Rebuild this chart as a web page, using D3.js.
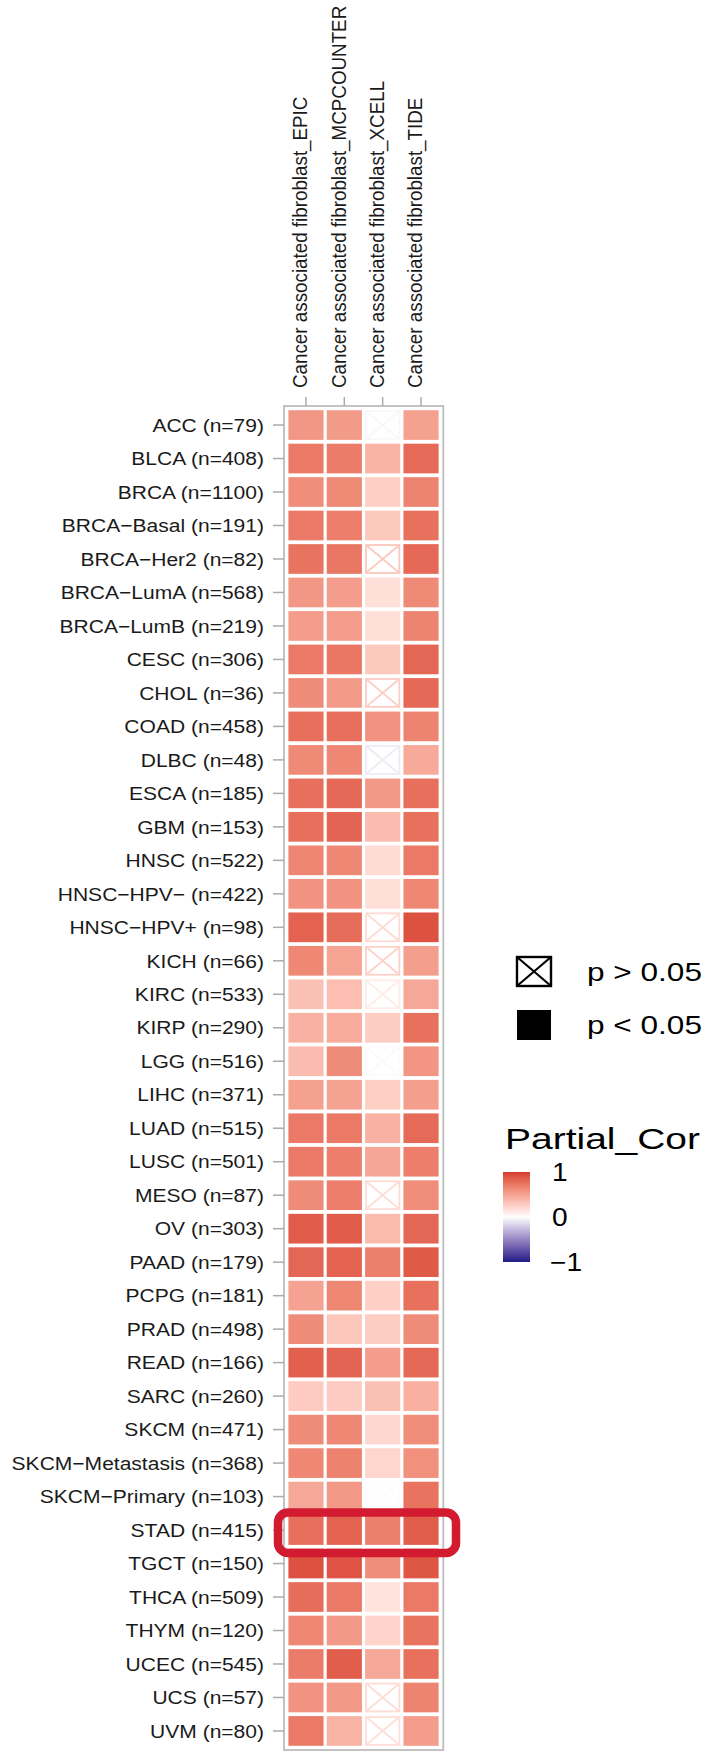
<!DOCTYPE html>
<html>
<head>
<meta charset="utf-8">
<script src="https://cdn.jsdelivr.net/npm/d3@7"></script>
<style>
  body { margin: 0; background: #fff; }
  svg { display: block; font-family: "Liberation Sans", Arial, Helvetica, sans-serif; }
</style>
</head>
<body>
<div id="chart"></div>
<script>

// Data

var cancers = ["ACC", "BLCA", "BRCA", "BRCA−Basal", "BRCA−Her2", "BRCA−LumA", "BRCA−LumB", "CESC", "CHOL", "COAD",
  "DLBC", "ESCA", "GBM", "HNSC", "HNSC−HPV−", "HNSC−HPV+", "KICH", "KIRC", "KIRP", "LGG",
  "LIHC", "LUAD", "LUSC", "MESO", "OV", "PAAD", "PCPG", "PRAD", "READ", "SARC",
  "SKCM", "SKCM−Metastasis", "SKCM−Primary", "STAD", "TGCT", "THCA", "THYM", "UCEC", "UCS", "UVM"];

var sampleN = [79, 408, 1100, 191, 82, 568, 219, 306, 36, 458,
  48, 185, 153, 522, 422, 98, 66, 533, 290, 516,
  371, 515, 501, 87, 303, 179, 181, 498, 166, 260,
  471, 368, 103, 415, 150, 509, 120, 545, 57, 80];

var methods = ["Cancer associated fibroblast_EPIC", "Cancer associated fibroblast_MCPCOUNTER",
  "Cancer associated fibroblast_XCELL", "Cancer associated fibroblast_TIDE"];

var corEPIC = [0.56, 0.72, 0.61, 0.71, 0.75, 0.56, 0.53, 0.71, 0.62, 0.77,
  0.63, 0.77, 0.77, 0.65, 0.58, 0.83, 0.64, 0.34, 0.42, 0.36,
  0.51, 0.71, 0.71, 0.62, 0.86, 0.81, 0.50, 0.62, 0.84, 0.28,
  0.62, 0.64, 0.47, 0.77, 0.91, 0.78, 0.64, 0.70, 0.58, 0.72];

var corMCP = [0.54, 0.70, 0.63, 0.69, 0.73, 0.53, 0.53, 0.73, 0.54, 0.77,
  0.64, 0.80, 0.82, 0.64, 0.58, 0.78, 0.49, 0.35, 0.45, 0.62,
  0.50, 0.72, 0.69, 0.69, 0.86, 0.83, 0.64, 0.31, 0.82, 0.28,
  0.64, 0.67, 0.55, 0.83, 0.90, 0.72, 0.55, 0.85, 0.55, 0.41];

var corXCELL = [-0.03, 0.41, 0.26, 0.29, 0.30, 0.17, 0.17, 0.29, 0.27, 0.58,
  -0.08, 0.55, 0.36, 0.19, 0.18, 0.20, 0.25, 0.10, 0.27, -0.02,
  0.26, 0.42, 0.48, 0.19, 0.37, 0.68, 0.26, 0.27, 0.53, 0.34,
  0.21, 0.22, -0.01, 0.68, 0.61, 0.15, 0.23, 0.47, 0.19, 0.18];

var corTIDE = [0.51, 0.79, 0.66, 0.76, 0.80, 0.63, 0.66, 0.81, 0.80, 0.66,
  0.46, 0.77, 0.76, 0.72, 0.64, 0.91, 0.52, 0.47, 0.76, 0.57,
  0.52, 0.79, 0.69, 0.61, 0.81, 0.87, 0.76, 0.62, 0.80, 0.43,
  0.61, 0.60, 0.75, 0.85, 0.89, 0.72, 0.75, 0.76, 0.66, 0.53];

// cells with p > 0.05 (only XCELL column)
var notSigXCELL = ["ACC", "BRCA−Her2", "CHOL", "DLBC", "HNSC−HPV+", "KICH", "KIRC", "LGG",
  "MESO", "SKCM−Primary", "UCS", "UVM"];

var legendTicks = [1, 0, -1];

// Dimensions

var width = 708;
var height = 1757;
var panel = { left: 284, right: 443.3, top: 406, bottom: 1750 };
var stretch = 1.125;   // text in the picture is a bit wider than tall

var svg = d3.select("#chart")
  .append("svg")
  .attr("width", width)
  .attr("height", height);

// Scales

var x = d3.scaleBand()
  .domain(methods)
  .range([panel.left + 2.8, panel.right - 3.1]);

var y = d3.scaleBand()
  .domain(cancers)
  .range([panel.top + 2.3, panel.bottom - 2.3]);

var color = d3.scaleLinear()
  .domain([-1, 0, 1])
  .range(["#1c1c86", "#ffffff", "#d63b30"])
  .interpolate(d3.interpolateLab);

// Long table for the tiles

var series = [corEPIC, corMCP, corXCELL, corTIDE];
var cells = [];
methods.forEach(function(m, j) {
  cancers.forEach(function(c, i) {
    cells.push({
      method: m,
      cancer: c,
      value: series[j][i],
      ns: j === 2 && notSigXCELL.indexOf(c) >= 0
    });
  });
});

// Panel border

svg.append("rect")
  .attr("x", panel.left)
  .attr("y", panel.top)
  .attr("width", panel.right - panel.left)
  .attr("height", panel.bottom - panel.top)
  .attr("fill", "none")
  .attr("stroke", "#bdbdbd")
  .attr("stroke-width", 1.8);

// Tiles

var padX = 1.6, padY = 1.9;

var tiles = svg.append("g").selectAll("g")
  .data(cells)
  .enter()
  .append("g")
  .attr("transform", function(d) {
    return "translate(" + (x(d.method) + padX) + "," + (y(d.cancer) + padY) + ")";
  });

var tw = x.bandwidth() - 2 * padX;
var th = y.bandwidth() - 2 * padY;

tiles.filter(function(d) { return !d.ns; })
  .append("rect")
  .attr("width", tw)
  .attr("height", th)
  .attr("fill", function(d) { return color(d.value); });

var nsTiles = tiles.filter(function(d) { return d.ns; });

nsTiles.append("rect")
  .attr("x", 0.9)
  .attr("y", 0.9)
  .attr("width", tw - 1.8)
  .attr("height", th - 1.8)
  .attr("fill", "#fff")
  .attr("stroke", function(d) { return color(d.value); })
  .attr("stroke-width", 1.8);

nsTiles.append("path")
  .attr("d", "M0.9,0.9L" + (tw - 0.9) + "," + (th - 0.9) + "M" + (tw - 0.9) + ",0.9L0.9," + (th - 0.9))
  .attr("stroke", function(d) { return color(d.value); })
  .attr("stroke-width", 1.8)
  .attr("fill", "none");

// Y axis

var yAxis = svg.append("g");

yAxis.selectAll("line")
  .data(cancers)
  .enter()
  .append("line")
  .attr("x1", panel.left - 11)
  .attr("x2", panel.left)
  .attr("y1", function(d) { return y(d) + y.bandwidth() / 2; })
  .attr("y2", function(d) { return y(d) + y.bandwidth() / 2; })
  .attr("stroke", "#ababab")
  .attr("stroke-width", 1.5);

yAxis.selectAll("text")
  .data(cancers)
  .enter()
  .append("text")
  .attr("transform", function(d) {
    return "translate(" + (panel.left - 20) + "," + (y(d) + y.bandwidth() / 2) + ") scale(" + stretch + ",1)";
  })
  .attr("dy", 6.7)
  .attr("text-anchor", "end")
  .attr("font-size", 18.7)
  .attr("fill", "#1a1a1a")
  .text(function(d, i) { return d + " (n=" + sampleN[i] + ")"; });

// X axis (top)

var xAxis = svg.append("g");

xAxis.selectAll("line")
  .data(methods)
  .enter()
  .append("line")
  .attr("x1", function(d) { return x(d) + x.bandwidth() / 2; })
  .attr("x2", function(d) { return x(d) + x.bandwidth() / 2; })
  .attr("y1", panel.top - 9)
  .attr("y2", panel.top)
  .attr("stroke", "#ababab")
  .attr("stroke-width", 1.5);

xAxis.selectAll("text")
  .data(methods)
  .enter()
  .append("text")
  .attr("transform", function(d) {
    return "translate(" + (x(d) + x.bandwidth() / 2 + 1.2) + "," + (panel.top - 18) + ") scale(" + stretch + ",1) rotate(-90)";
  })
  .attr("text-anchor", "start")
  .attr("font-size", 18.8)
  .attr("fill", "#1a1a1a")
  .text(function(d) { return d; });

// Highlight box around STAD

svg.append("rect")
  .attr("x", panel.left - 6)
  .attr("y", y("STAD") + y.bandwidth() / 2 - 17.5)
  .attr("width", 178)
  .attr("height", 40.5)
  .attr("rx", 10)
  .attr("fill", "none")
  .attr("stroke", "#d21a30")
  .attr("stroke-width", 8.5);

// Legend: significance

var sig = svg.append("g").attr("transform", "translate(517,957)");

sig.append("rect")
  .attr("width", 34).attr("height", 29)
  .attr("fill", "#fff").attr("stroke", "#000").attr("stroke-width", 2.4);
sig.append("path")
  .attr("d", "M0,0L34,29M34,0L0,29")
  .attr("stroke", "#000").attr("stroke-width", 2.2);
sig.append("text")
  .attr("x", 70).attr("y", 23.5)
  .attr("font-size", 26)
  .attr("textLength", 115).attr("lengthAdjust", "spacingAndGlyphs")
  .text("p > 0.05");

sig.append("rect")
  .attr("y", 53).attr("width", 34).attr("height", 30)
  .attr("fill", "#000");
sig.append("text")
  .attr("x", 70).attr("y", 77)
  .attr("font-size", 26)
  .attr("textLength", 115).attr("lengthAdjust", "spacingAndGlyphs")
  .text("p < 0.05");

// Legend: colour bar

var bar = { x: 503, y: 1172, w: 27, h: 90 };

var grad = svg.append("defs").append("linearGradient")
  .attr("id", "corGrad")
  .attr("x1", 0).attr("y1", 0).attr("x2", 0).attr("y2", 1);

d3.range(0, 1.0001, 0.05).forEach(function(t) {
  grad.append("stop")
    .attr("offset", t)
    .attr("stop-color", color(1 - 2 * t));
});

svg.append("text")
  .attr("x", 505).attr("y", 1149)
  .attr("font-size", 29.5)
  .attr("textLength", 195).attr("lengthAdjust", "spacingAndGlyphs")
  .text("Partial_Cor");

svg.append("rect")
  .attr("x", bar.x).attr("y", bar.y)
  .attr("width", bar.w).attr("height", bar.h)
  .attr("fill", "url(#corGrad)");

var barScale = d3.scaleLinear().domain([1, -1]).range([bar.y, bar.y + bar.h]);

svg.selectAll(".barLabel")
  .data(legendTicks)
  .enter()
  .append("text")
  .attr("class", "barLabel")
  .attr("transform", function(d) {
    return "translate(" + (d < 0 ? 550 : 552) + "," + barScale(d) + ") scale(" + stretch + ",1)";
  })
  .attr("dy", 9)
  .attr("font-size", 25)
  .text(function(d) { return d < 0 ? "−1" : d; });

</script>
</body>
</html>
